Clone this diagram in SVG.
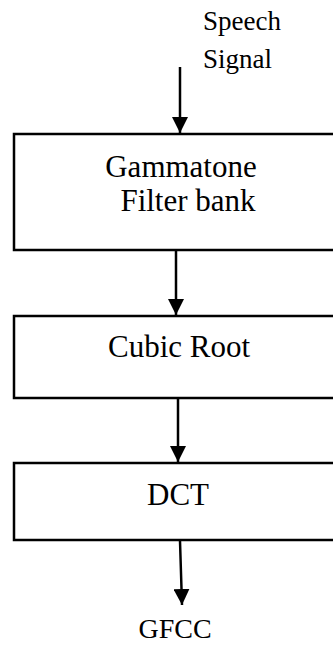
<svg xmlns="http://www.w3.org/2000/svg" width="333" height="645" viewBox="0 0 333 645">
  <style>
    .box { fill: #ffffff; stroke: #000000; stroke-width: 2.5; }
    text { font-family: 'Liberation Serif', 'DejaVu Serif', serif; fill: #000000; }
    .big { font-size: 31px; text-anchor: middle; }
    .small { font-size: 27px; }
    .wire { stroke: #000000; stroke-width: 2.5; fill: none; }
  </style>
  <defs>
    <!-- filled triangular arrowhead, tip at the end of the line -->
    <marker id="head" markerUnits="userSpaceOnUse" markerWidth="16" markerHeight="16" viewBox="0 0 16 16" refX="16" refY="8" orient="auto">
      <path d="M0,0 L16,8 L0,16 Z" fill="#000000"/>
    </marker>
  </defs>

  <!-- input label -->
  <g id="input">
    <text class="small" x="203" y="30">Speech</text>
    <text class="small" x="203" y="68">Signal</text>
  </g>

  <g id="gammatone">
    <rect class="box" x="14" y="134" width="340" height="116"/>
    <text class="big" x="181" y="177">Gammatone</text>
    <text class="big" x="188" y="211">Filter bank</text>
  </g>

  <g id="cubic-root">
    <rect class="box" x="14" y="316" width="340" height="82"/>
    <text class="big" x="179" y="357">Cubic Root</text>
  </g>

  <g id="dct">
    <rect class="box" x="14" y="463" width="340" height="77"/>
    <text class="big" x="178" y="505">DCT</text>
  </g>

  <g id="output">
    <text x="175" y="638" font-size="28" text-anchor="middle">GFCC</text>
  </g>

  <!-- connectors -->
  <g id="connectors">
    <path class="wire" d="M180,67 L180,133" marker-end="url(#head)"/>
    <path class="wire" d="M176,251 L176,315" marker-end="url(#head)"/>
    <path class="wire" d="M178,399 L178,462" marker-end="url(#head)"/>
    <path class="wire" d="M180,541 L182,605" marker-end="url(#head)"/>
  </g>
</svg>
